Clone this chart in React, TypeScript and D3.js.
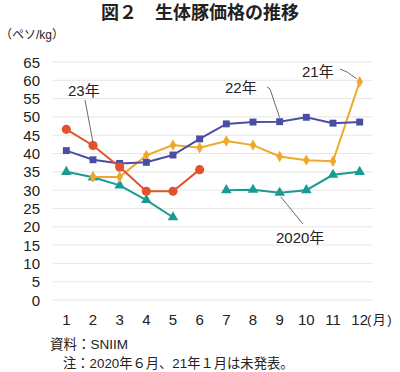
import { line, scaleLinear, scalePoint, symbol, symbolDiamond, symbolSquare, symbolTriangle, symbolCircle } from 'd3';

const months = ['1', '2', '3', '4', '5', '6', '7', '8', '9', '10', '11', '12'];
const yTicks = [0, 5, 10, 15, 20, 25, 30, 35, 40, 45, 50, 55, 60, 65];

// null = 未発表 / no data
const y2020 = [35, 33.5, 31.3, 27.3, 22.6, null, 30, 30.1, 29.3, 30, 34.2, 35];
const y2021 = [null, 33.6, 33.6, 39.5, 42.3, 41.6, 43.4, 42.3, 39.2, 38.2, 37.9, 59.6];
const y2022 = [40.8, 38.3, 37.3, 37.6, 39.6, 44, 48.1, 48.6, 48.7, 49.9, 48.3, 48.6];
const y2023 = [46.6, 42.2, 36.3, 29.7, 29.7, 35.6];

const FONT = '"Liberation Sans", "Noto Sans CJK JP", sans-serif';

const series = [
  { name: '2020', values: y2020, color: '#1b9a93', shape: symbolTriangle, size: 48 },
  { name: '2021', values: y2021, color: '#f0a82c', shape: symbolDiamond, size: 38 },
  { name: '2022', values: y2022, color: '#4a4ea3', shape: symbolSquare, size: 48 },
  { name: '2023', values: y2023, color: '#e2522b', shape: symbolCircle, size: 66 },
];

export default function App() {
  const width = 400;
  const height = 372;
  const left = 53;
  const right = 373;
  const top = 62;
  const bottom = 300;

  const x = scalePoint<string>().domain(months).range([left, right]).padding(0.5);
  const y = scaleLinear().domain([0, 65]).range([bottom, top]);

  const path = line<number | null>()
    .defined((d) => d !== null)
    .x((_, i) => x(months[i]) ?? 0)
    .y((d) => y(d as number));

  return (
    <svg width={width} height={height} style={{ position: 'absolute', left: 0, top: 0, background: '#fff' }} fontFamily={FONT}>
      <text x={200} y={19} textAnchor="middle" fontSize={18} fontWeight="bold" fill="#222">
        図２　生体豚価格の推移
      </text>
      <text x={0} y={39} fontSize={12} fill="#222">（ペソ/kg）</text>

      {yTicks.map((t) => (
        <g key={t}>
          <line x1={left} x2={right} y1={y(t)} y2={y(t)} stroke="#e6e6e6" strokeWidth={1} />
          <text x={40} y={y(t) + 5.5} textAnchor="end" fontSize={15} fill="#222">{t}</text>
        </g>
      ))}

      {months.map((m) => (
        <text key={m} x={x(m)} y={325} textAnchor="middle" fontSize={15} fill="#222">{m}</text>
      ))}
      <text x={367} y={324} fontSize={13} fill="#222" letterSpacing={1.5}>(月)</text>

      {series.map((s) => (
        <g key={s.name}>
          <path d={path(s.values) ?? ''} fill="none" stroke={s.color} strokeWidth={2} />
          {s.values.map((v, i) =>
            v === null ? null : (
              <path
                key={i}
                d={symbol(s.shape, s.size)() ?? ''}
                transform={`translate(${x(months[i])},${y(v)})`}
                fill={s.color}
              />
            ),
          )}
        </g>
      ))}

      {/* annotations */}
      <g stroke="#444" strokeWidth={0.8} fill="none">
        <polyline points={`85,100 ${x('2')},${y(y2023[1]) - 3}`} />
        <polyline points={`267,87 270,89 ${x('9')},${y(y2022[8]) - 4}`} />
        <polyline points={`340,69 347,72 ${x('12')! - 3},${y(y2021[11]) - 3}`} />
        <polyline points={`${x('9')! + 1},${y(y2020[8]) + 4} 303,224`} />
      </g>
      <g fontSize={15} fill="#222">
        <text x={68} y={96}>23年</text>
        <text x={225} y={93}>22年</text>
        <text x={302} y={77}>21年</text>
        <text x={276} y={243}>2020年</text>
      </g>

      <text x={50} y={349} fontSize={13.5} fill="#222">資料：SNIIM</text>
      <text x={63} y={368} fontSize={13.3} fill="#222">注：2020年６月、21年１月は未発表。</text>
    </svg>
  );
}
